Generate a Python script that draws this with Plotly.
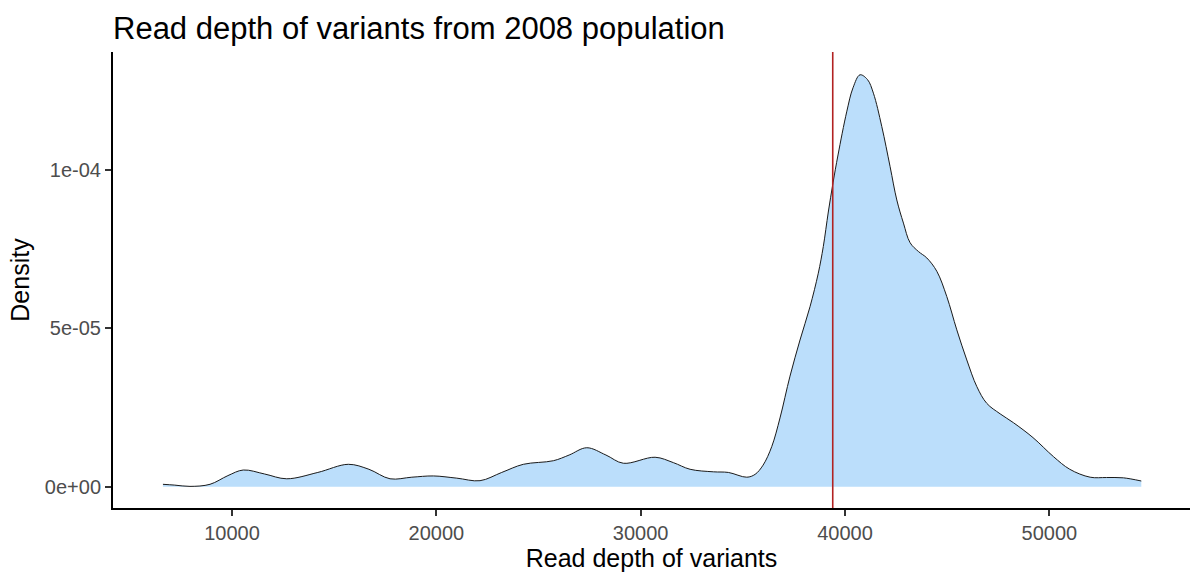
import plotly.graph_objects as go

# Kernel density of read depth (x: read depth, y: density)
read_depth = [
    6620, 7200, 7944, 8923, 9800, 10553, 11600, 12677, 14200, 15693,
    16700, 17734, 18800, 19853, 21000, 22139, 23200, 24258, 25727, 26500,
    27362, 28300, 29153, 30705, 31600, 32418, 33558, 34293, 35193, 35600,
    35990, 36413, 36819, 37308, 37798, 38287, 38693, 38938, 39183, 39413,
    39658, 40083, 40392, 40734, 41100, 41390, 41800, 42207, 42535, 42860,
    43186, 43600, 44004, 44493, 44982, 45472, 45961, 46451, 46940, 47592,
    48244, 49200, 50201, 51000, 51997, 52800, 53627, 54500,
]
density = [
    7.6e-7, 5e-7, 1e-7, 7.6e-7, 3.5e-6, 5.27e-6, 4.0e-6, 2.5e-6, 4.5e-6, 7.07e-6,
    5.5e-6, 2.5e-6, 3.0e-6, 3.4e-6, 2.7e-6, 1.9e-6, 4.5e-6, 7.07e-6, 8.2e-6, 1.0e-5,
    1.23e-5, 1.0e-5, 7.4e-6, 9.3e-6, 7.6e-6, 5.5e-6, 4.7e-6, 4.5e-6, 3.0e-6, 3.9e-6,
    6.8e-6, 1.263e-5, 2.17e-5, 3.49e-5, 4.63e-5, 5.68e-5, 6.74e-5, 7.58e-5, 8.67e-5, 9.59e-5,
    1.047e-4, 1.183e-4, 1.259e-4, 1.30e-4, 1.285e-4, 1.242e-4, 1.137e-4, 1.01e-4, 9.05e-5, 8.32e-5,
    7.7e-5, 7.42e-5, 7.22e-5, 6.8e-5, 6.0e-5, 4.95e-5, 4.0e-5, 3.16e-5, 2.63e-5, 2.3e-5,
    2.02e-5, 1.55e-5, 9.5e-6, 5.5e-6, 3.0e-6, 2.9e-6, 2.8e-6, 1.8e-6,
]

# Reference depth marked with a vertical line
vline_x = 39400

x_ticks = [10000, 20000, 30000, 40000, 50000]
x_tick_labels = ["10000", "20000", "30000", "40000", "50000"]
y_ticks = [0, 5e-5, 1e-4]
y_tick_labels = ["0e+00", "5e-05", "1e-04"]

FONT = "Liberation Sans, Arial, sans-serif"

fig = go.Figure()
fig.add_trace(go.Scatter(
    x=read_depth, y=density,
    mode="lines",
    line=dict(color="#1a1a1a", width=1, shape="spline", smoothing=1.0),
    fill="tozeroy",
    fillcolor="#bbdefb",
    hoverinfo="skip",
    showlegend=False,
))

fig.add_shape(
    type="line", xref="x", yref="paper",
    x0=vline_x, x1=vline_x, y0=0, y1=1,
    line=dict(color="#b22222", width=1.6),
    layer="above",
)

fig.update_layout(
    width=1193, height=574,
    margin=dict(l=113, r=3, t=52, b=66),
    paper_bgcolor="white",
    plot_bgcolor="white",
    font=dict(family=FONT, color="black"),
    title=dict(
        text="Read depth of variants from 2008 population",
        font=dict(size=31, color="black", family=FONT),
        x=113 / 1193, xanchor="left", xref="container",
        y=1 - 28 / 574, yanchor="middle", yref="container",
    ),
    xaxis=dict(
        range=[4176, 56884],
        tickvals=x_ticks, ticktext=x_tick_labels,
        ticks="outside", ticklen=6, tickwidth=2, tickcolor="#333333",
        tickfont=dict(size=20, color="#4d4d4d", family=FONT),
        showline=True, linecolor="black", linewidth=2,
        showgrid=False, zeroline=False,
        title=dict(text="Read depth of variants",
                   font=dict(size=25, color="black", family=FONT), standoff=6),
    ),
    yaxis=dict(
        range=[-6.72e-6, 1.372e-4],
        tickvals=y_ticks, ticktext=y_tick_labels,
        ticks="outside", ticklen=6, tickwidth=2, tickcolor="#333333",
        tickfont=dict(size=20, color="#4d4d4d", family=FONT),
        showline=True, linecolor="black", linewidth=2,
        showgrid=False, zeroline=False,
        title=dict(text="Density",
                   font=dict(size=25, color="black", family=FONT), standoff=8),
    ),
)

fig.write_html("out.html")
